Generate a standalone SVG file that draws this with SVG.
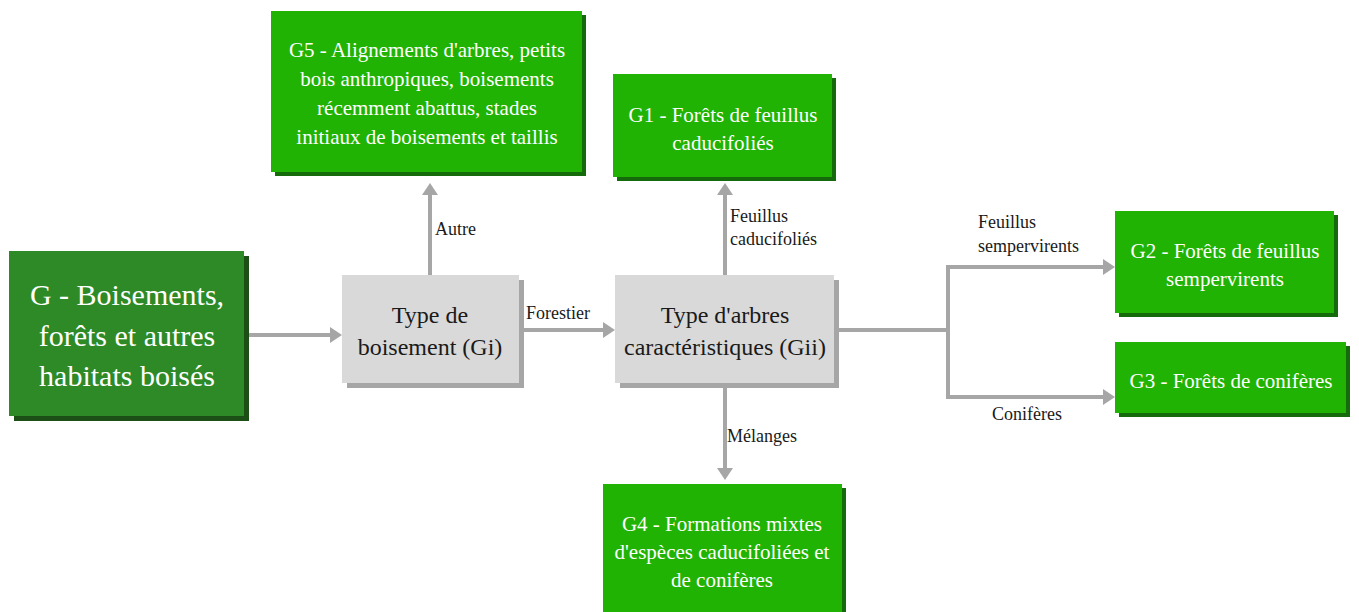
<svg xmlns="http://www.w3.org/2000/svg" width="1359" height="612" viewBox="0 0 1359 612">
  <defs>
    <marker id="arrow" markerUnits="userSpaceOnUse" markerWidth="14" markerHeight="16" refX="2" refY="8" orient="auto">
      <path d="M0,0 L12,8 L0,16 z" fill="#a6a6a6"/>
    </marker>
  </defs>
  <style>
    text { font-family: "Liberation Serif", "DejaVu Serif", serif; text-anchor: middle; }
    .root { fill: #2d8a27; }
    .root-sh { fill: #1b4f15; }
    .leaf { fill: #20b303; }
    .leaf-sh { fill: #156a0c; }
    .step { fill: #d9d9d9; }
    .step-sh { fill: #a6a6a6; }
    .t-root { fill: #ffffff; font-size: 30px; }
    .t-leaf { fill: #ffffff; font-size: 21px; }
    .t-step { fill: #1a1a1a; font-size: 24px; }
    .lbl { fill: #1a1a1a; font-size: 18px; text-anchor: start; }
    .conn { fill: none; stroke: #a6a6a6; stroke-width: 4; }
  </style>
  <rect width="1359" height="612" fill="#ffffff"/>

  <!-- connectors -->
  <g id="connectors">
    <line class="conn" x1="249" y1="335" x2="332" y2="335" marker-end="url(#arrow)"/>
    <line class="conn" x1="430" y1="275" x2="430" y2="193" marker-end="url(#arrow)"/>
    <line class="conn" x1="519" y1="330" x2="605" y2="330" marker-end="url(#arrow)"/>
    <line class="conn" x1="725" y1="275" x2="725" y2="193" marker-end="url(#arrow)"/>
    <line class="conn" x1="725" y1="388" x2="725" y2="470" marker-end="url(#arrow)"/>
    <polyline class="conn" points="834,330 948,330 948,267 1105,267" marker-end="url(#arrow)"/>
    <polyline class="conn" points="948,330 948,397 1105,397" marker-end="url(#arrow)"/>
    <text class="lbl" x="435" y="235">Autre</text>
    <text class="lbl" x="526" y="319">Forestier</text>
    <text class="lbl" x="730" y="222">Feuillus</text>
    <text class="lbl" x="730" y="245">caducifoliés</text>
    <text class="lbl" x="978" y="228">Feuillus</text>
    <text class="lbl" x="978" y="252">sempervirents</text>
    <text class="lbl" x="992" y="420">Conifères</text>
    <text class="lbl" x="727" y="442">Mélanges</text>
  </g>

  <!-- root node -->
  <g id="node-G">
    <rect class="root-sh" x="14" y="256" width="235" height="165"/>
    <rect class="root" x="9" y="251" width="235" height="165"/>
    <text class="t-root" x="127" y="305">G - Boisements,</text>
    <text class="t-root" x="127" y="346">forêts et autres</text>
    <text class="t-root" x="127" y="386">habitats boisés</text>
  </g>

  <g id="node-Gi">
    <rect class="step-sh" x="347" y="280" width="177" height="108"/>
    <rect class="step" x="342" y="275" width="177" height="108"/>
    <text class="t-step" x="430" y="323">Type de</text>
    <text class="t-step" x="430" y="355">boisement (Gi)</text>
  </g>

  <g id="node-Gii">
    <rect class="step-sh" x="620" y="280" width="219" height="108"/>
    <rect class="step" x="615" y="275" width="219" height="108"/>
    <text class="t-step" x="725" y="323">Type d'arbres</text>
    <text class="t-step" x="725" y="355">caractéristiques (Gii)</text>
  </g>

  <g id="node-G5">
    <rect class="leaf-sh" x="275" y="15" width="311" height="161"/>
    <rect class="leaf" x="271" y="11" width="311" height="161"/>
    <text class="t-leaf" x="427" y="57">G5 - Alignements d'arbres, petits</text>
    <text class="t-leaf" x="427" y="86">bois anthropiques, boisements</text>
    <text class="t-leaf" x="427" y="115">récemment abattus, stades</text>
    <text class="t-leaf" x="427" y="144">initiaux de boisements et taillis</text>
  </g>

  <g id="node-G1">
    <rect class="leaf-sh" x="617" y="78" width="219" height="103"/>
    <rect class="leaf" x="613" y="74" width="219" height="103"/>
    <text class="t-leaf" x="723" y="122">G1 - Forêts de feuillus</text>
    <text class="t-leaf" x="723" y="150">caducifoliés</text>
  </g>

  <g id="node-G2">
    <rect class="leaf-sh" x="1119" y="215" width="219" height="102"/>
    <rect class="leaf" x="1115" y="211" width="219" height="102"/>
    <text class="t-leaf" x="1225" y="258">G2 - Forêts de feuillus</text>
    <text class="t-leaf" x="1225" y="286">sempervirents</text>
  </g>

  <g id="node-G3">
    <rect class="leaf-sh" x="1119" y="346" width="231" height="71"/>
    <rect class="leaf" x="1115" y="342" width="231" height="71"/>
    <text class="t-leaf" x="1231" y="388">G3 - Forêts de conifères</text>
  </g>

  <g id="node-G4">
    <rect class="leaf-sh" x="607" y="488" width="239" height="130"/>
    <rect class="leaf" x="603" y="484" width="239" height="130"/>
    <text class="t-leaf" x="722" y="531">G4 - Formations mixtes</text>
    <text class="t-leaf" x="722" y="559">d'espèces caducifoliées et</text>
    <text class="t-leaf" x="722" y="587">de conifères</text>
  </g>
</svg>
